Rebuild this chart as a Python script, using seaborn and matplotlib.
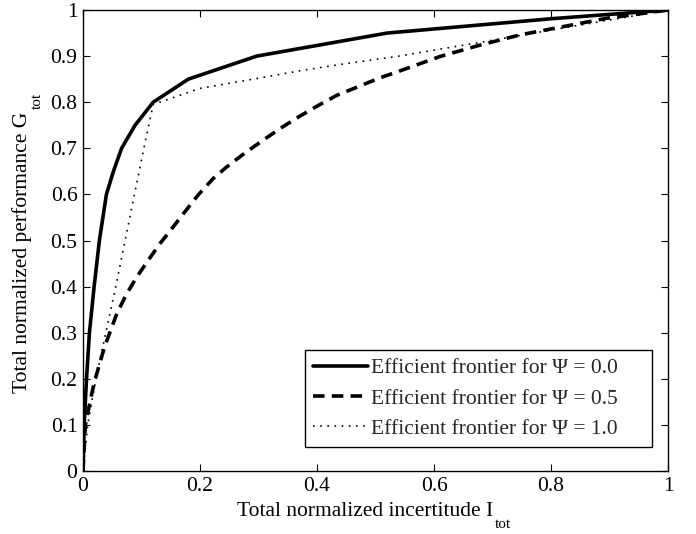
import matplotlib
matplotlib.use("Agg")
import matplotlib.pyplot as plt
from matplotlib.transforms import IdentityTransform
from matplotlib.patches import Rectangle
import seaborn as sns

sns.set_theme(style="white")
plt.rcParams['font.family'] = ['Liberation Serif', 'DejaVu Serif']

# Psi = 0.0 (solid)
x_psi0 = [0, 0.002, 0.006, 0.011, 0.019, 0.028, 0.040, 0.052, 0.066, 0.089, 0.12, 0.18, 0.297, 0.52, 0.80, 1.0]
y_psi0 = [0, 0.10, 0.20, 0.30, 0.40, 0.50, 0.60, 0.65, 0.70, 0.75, 0.80, 0.85, 0.90, 0.95, 0.981, 1.0]
# Psi = 0.5 (dashed)
x_psi05 = [0, 0.004, 0.015, 0.021, 0.037, 0.058, 0.075, 0.092, 0.112, 0.132, 0.152, 0.174, 0.197,
           0.223, 0.246, 0.277, 0.305, 0.337, 0.371, 0.405, 0.434, 0.508, 0.542, 0.610, 0.679,
           0.747, 0.821, 0.895, 1.0]
y_psi05 = [0, 0.10, 0.168, 0.20, 0.27, 0.342, 0.385, 0.421, 0.458, 0.494, 0.526, 0.562, 0.599,
           0.635, 0.66, 0.69, 0.715, 0.743, 0.77, 0.795, 0.815, 0.853, 0.868, 0.899, 0.924,
           0.946, 0.964, 0.982, 1.0]
# Psi = 1.0 (dotted)
x_psi1 = [0, 0.008, 0.022, 0.039, 0.056, 0.072, 0.088, 0.104, 0.12, 0.20, 0.30, 0.37, 0.43, 0.54, 0.68, 0.83, 1.0]
y_psi1 = [0, 0.10, 0.20, 0.30, 0.40, 0.50, 0.60, 0.70, 0.795, 0.83, 0.852, 0.868, 0.88, 0.90, 0.93, 0.963, 1.0]

labels = ["Efficient frontier for \u03a8 = 0.0",
          "Efficient frontier for \u03a8 = 0.5",
          "Efficient frontier for \u03a8 = 1.0"]
x_ticks = [0, 0.2, 0.4, 0.6, 0.8, 1.0]
x_ticklabels = ["0", "0.2", "0.4", "0.6", "0.8", "1"]
y_ticks = [0, 0.1, 0.2, 0.3, 0.4, 0.5, 0.6, 0.7, 0.8, 0.9, 1.0]
y_ticklabels = ["0", "0.1", "0.2", "0.3", "0.4", "0.5", "0.6", "0.7", "0.8", "0.9", "1"]
x_label = "Total normalized incertitude I"
y_label = "Total normalized performance G"
sub_label = "tot"

FS = 15.5
W, H = 696, 534
AX_L, AX_R, AX_T, AX_B = 83, 668, 10, 471


def ax_x(px):
    return (px - AX_L) / (AX_R - AX_L)


def ax_y(py):
    return (AX_B - py) / (AX_B - AX_T)


fig = plt.figure(figsize=(W / 100, H / 100), dpi=100)
ax = fig.add_axes([AX_L / W, 1 - AX_B / H, (AX_R - AX_L) / W, (AX_B - AX_T) / H])

sns.lineplot(x=x_psi0, y=y_psi0, sort=False, color='black', lw=2.6, ax=ax, label=labels[0])
sns.lineplot(x=x_psi05, y=y_psi05, sort=False, color='black', lw=2.6, ax=ax, label=labels[1],
             linestyle=(0, (3.2, 2.0)))
sns.lineplot(x=x_psi1, y=y_psi1, sort=False, color='black', lw=1.2, ax=ax, label=labels[2],
             linestyle=(0, (1, 3.3)))

ax.set_xlim(0, 1)
ax.set_ylim(0, 1)
ax.set_xticks(x_ticks)
ax.set_xticklabels(x_ticklabels)
ax.set_yticks(y_ticks)
ax.set_yticklabels(y_ticklabels)
ax.tick_params(direction='in', length=5, width=0.8, colors='black', labelsize=FS,
               top=True, right=True, bottom=True, left=True, pad=4)
for s in ax.spines.values():
    s.set_visible(True)
    s.set_color('black')
    s.set_linewidth(1.0)

ax.set_xlabel(x_label, fontsize=FS, color='black')
ax.set_ylabel(y_label, fontsize=FS, color='black')
ax.xaxis.set_label_coords(ax_x(365), ax_y(511))
ax.xaxis.label.set_va('center')
ax.yaxis.set_label_coords(ax_x(22), ax_y(252))
ax.yaxis.label.set_va('center')

# legend box (MATLAB style, wide right padding)
ax.add_patch(Rectangle((ax_x(305), ax_y(447)), ax_x(652) - ax_x(305), ax_y(350) - ax_y(447),
                       transform=ax.transAxes, facecolor='white', edgecolor='black',
                       lw=1.0, zorder=4))
leg = ax.legend(loc='center left', bbox_to_anchor=(ax_x(313), ax_y(398.5)),
                borderaxespad=0, borderpad=0, fontsize=FS, frameon=False,
                handlelength=2.55, handletextpad=0.15, labelspacing=0.48)
leg.set_zorder(5)

# MATLAB-style low subscripts
fig.canvas.draw()
xb = ax.xaxis.label.get_window_extent()
fig.text(xb.x1 + 2, H - 525, sub_label, fontsize=11, color='black',
         ha='left', va='center', transform=IdentityTransform())
yb = ax.yaxis.label.get_window_extent()
fig.text(37, yb.y1 + 2, sub_label, fontsize=11, color='black', rotation=90,
         ha='center', va='bottom', transform=IdentityTransform())

fig.savefig("out.png", dpi=100)
